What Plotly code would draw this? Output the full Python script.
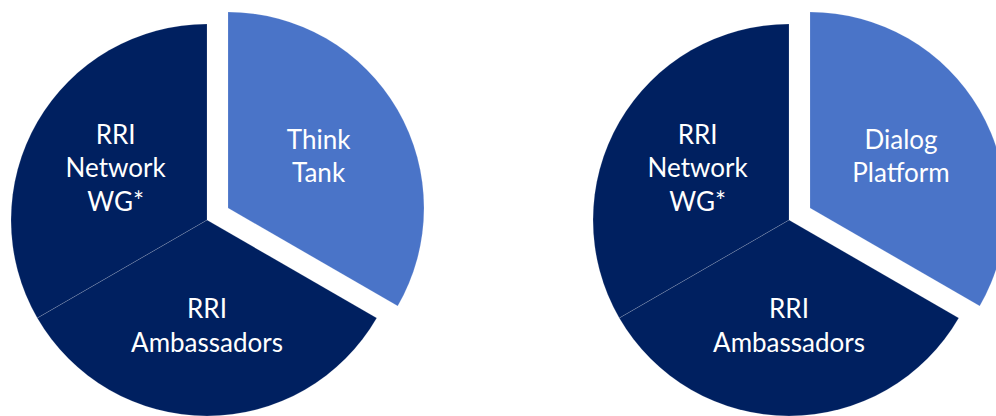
import plotly.graph_objects as go

# Data
labels_left = ["Think<br>Tank", "RRI<br>Ambassadors", "RRI<br>Network<br>WG*"]
labels_right = ["Dialog<br>Platform", "RRI<br>Ambassadors", "RRI<br>Network<br>WG*"]
values = [1, 1, 1]

NAVY = "#002060"
LIGHT = "#4a74c8"
W, H = 1010, 416
T = "rgba(0,0,0,0)"
EDGE = "rgba(255,255,255,0.25)"


def dom(cx, cy, r):
    return dict(x=[(cx - r) / W, (cx + r) / W], y=[1 - (cy + r) / H, 1 - (cy - r) / H])


def pie(labels, colors, show, domain):
    texts = [l if s else "" for l, s in zip(labels, show)]
    return go.Pie(
        values=values,
        labels=[l.replace("<br>", " ") for l in labels],
        text=texts,
        textinfo="text",
        textposition="inside",
        insidetextorientation="horizontal",
        textfont=dict(family="Lato", size=26, color="white"),
        marker=dict(
            colors=colors,
            line=dict(color=[EDGE if s else T for s in show],
                      width=[0.6 if s else 0 for s in show]),
        ),
        sort=False,
        direction="clockwise",
        rotation=0,
        domain=domain,
        showlegend=False,
        hoverinfo="skip",
    )


R = 196
fig = go.Figure()
# left pie
fig.add_trace(pie(labels_left, [T, NAVY, NAVY], [False, True, True], dom(207, 220, R)))
fig.add_trace(pie(labels_left, [LIGHT, T, T], [True, False, False], dom(228, 208, R)))
# right pie
fig.add_trace(pie(labels_right, [T, NAVY, NAVY], [False, True, True], dom(789, 220, R)))
fig.add_trace(pie(labels_right, [LIGHT, T, T], [True, False, False], dom(810, 208, R)))

fig.update_layout(
    width=W,
    height=H,
    margin=dict(l=0, r=0, t=0, b=0),
    paper_bgcolor="white",
    plot_bgcolor="white",
)

fig.write_html(
    "out.html",
    config={"displayModeBar": False},
    post_script="document.body.style.overflow='hidden';document.body.style.margin='0';",
)
